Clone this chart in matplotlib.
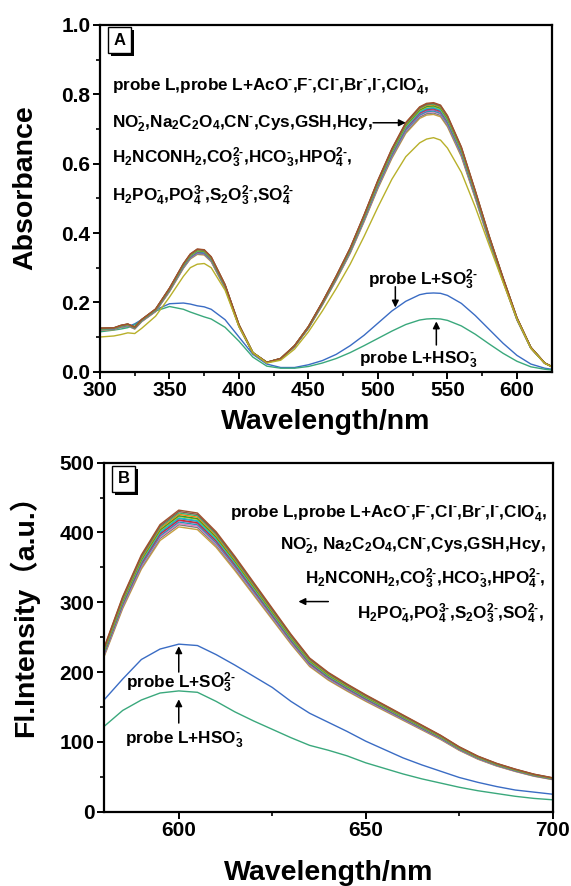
import numpy as np
import matplotlib
matplotlib.use('Agg')
import matplotlib.pyplot as plt
from matplotlib.patches import Rectangle
from matplotlib.transforms import IdentityTransform

plt.rcParams['font.family'] = ['Liberation Sans', 'Noto Sans CJK SC', 'DejaVu Sans']
plt.rcParams['font.weight'] = 'bold'
plt.rcParams['mathtext.fontset'] = 'custom'
plt.rcParams['mathtext.rm'] = 'Liberation Sans:bold'
plt.rcParams['mathtext.bf'] = 'Liberation Sans:bold'
plt.rcParams['mathtext.it'] = 'Liberation Sans:bold:italic'

# ---- UV-vis absorption (panel A) ----
uv_nm = [300, 310, 315, 320, 325, 330, 340, 350, 360, 365, 370, 375, 380, 390, 400,
         410, 420, 430, 440, 450, 460, 470, 480, 490, 500, 510, 520, 530, 535, 540,
         545, 550, 560, 570, 580, 590, 600, 610, 620, 625]
uv_probe = [0.125, 0.126, 0.133, 0.137, 0.128, 0.150, 0.180, 0.240, 0.310, 0.338,
            0.352, 0.350, 0.330, 0.250, 0.135, 0.055, 0.027, 0.038, 0.075, 0.130,
            0.200, 0.275, 0.355, 0.450, 0.550, 0.640, 0.715, 0.760, 0.770, 0.772,
            0.765, 0.735, 0.645, 0.520, 0.390, 0.270, 0.155, 0.070, 0.025, 0.015]
uv_so3 = [0.120, 0.125, 0.128, 0.130, 0.138, 0.150, 0.178, 0.196, 0.198, 0.195,
          0.190, 0.187, 0.180, 0.150, 0.100, 0.050, 0.022, 0.012, 0.012, 0.020,
          0.032, 0.050, 0.075, 0.105, 0.140, 0.175, 0.203, 0.222, 0.226, 0.227,
          0.226, 0.220, 0.197, 0.162, 0.122, 0.082, 0.047, 0.022, 0.010, 0.007]
uv_hso3 = [0.115, 0.120, 0.123, 0.127, 0.135, 0.148, 0.175, 0.188, 0.180, 0.172,
           0.165, 0.158, 0.152, 0.128, 0.088, 0.042, 0.016, 0.010, 0.010, 0.015,
           0.025, 0.038, 0.055, 0.075, 0.096, 0.117, 0.136, 0.149, 0.152, 0.153,
           0.152, 0.148, 0.132, 0.108, 0.080, 0.053, 0.030, 0.014, 0.007, 0.005]
uv_low = [0.100, 0.103, 0.107, 0.112, 0.110, 0.125, 0.160, 0.215, 0.275, 0.300,
          0.310, 0.312, 0.300, 0.235, 0.130, 0.055, 0.025, 0.033, 0.065, 0.115,
          0.175, 0.240, 0.310, 0.390, 0.475, 0.555, 0.620, 0.660, 0.671, 0.675,
          0.668, 0.645, 0.575, 0.475, 0.365, 0.258, 0.152, 0.068, 0.024, 0.014]
# peak absorbance at 540 nm of the other analyte curves
uv_peaks = [0.742, 0.746, 0.750, 0.752, 0.755, 0.758, 0.760, 0.762, 0.765, 0.767,
            0.770, 0.772, 0.774, 0.776]

# ---- fluorescence (panel B) ----
fl_nm = [580, 585, 590, 595, 600, 605, 610, 615, 620, 625, 630, 635, 640, 645, 650,
         655, 660, 665, 670, 675, 680, 685, 690, 695, 700]
fl_probe = [227, 298, 356, 398, 418, 414, 388, 354, 318, 282, 246, 213, 193, 177, 162,
            148, 134, 120, 106, 90, 77, 67, 59, 52, 47]
fl_so3 = [160, 190, 218, 233, 240, 238, 225, 210, 194, 178, 158, 141, 128, 115, 101,
          89, 77, 67, 58, 49, 42, 36, 31, 28, 25]
fl_hso3 = [122, 145, 160, 170, 173, 171, 158, 143, 130, 118, 106, 95, 88, 80, 70,
           62, 54, 47, 41, 35, 30, 26, 22, 19, 17]
fl_peaks = [408, 411, 413, 415, 417, 418, 420, 421, 423, 424, 426, 428, 430, 432]

bundle_colors = ['#c8a040', '#7f7f7f', '#e377c2', '#1f9fb4', '#9467bd', '#d62728',
                 '#4682b4', '#17becf', '#bcbd22', '#2ca02c', '#ff7f0e', '#3cb371',
                 '#8c564b', '#a0522d']
c_so3 = '#3a6cc4'
c_hso3 = '#3aa87c'
c_low = '#b8b02a'

lbl_size = 20.5
tick_size = 15
note_size = 12.3

fig = plt.figure(figsize=(5.71, 8.86), dpi=100)
ax1 = fig.add_axes([0.1751, 0.5805, 0.7911, 0.3913])
ax2 = fig.add_axes([0.1821, 0.0839, 0.7858, 0.3939])


def style_axes(ax):
    for sp in ax.spines.values():
        sp.set_linewidth(1.6)
    ax.tick_params(which='major', direction='out', length=5, width=1.4,
                   labelsize=tick_size, pad=2)
    ax.tick_params(which='minor', direction='out', length=3, width=1.2)
    for t in ax.get_xticklabels() + ax.get_yticklabels():
        t.set_fontweight('bold')


def panel_tag(ax, x, y, s):
    box = dict(boxstyle='square,pad=0.35', fc='white', ec='black', lw=1)
    t = ax.text(x, y, s, transform=ax.transAxes, fontsize=12, fontweight='bold',
                bbox=box, va='top', ha='left', zorder=6)
    fig.canvas.draw()
    bb = t.get_bbox_patch().get_window_extent()
    # drop shadow behind the boxed letter
    ax.add_patch(Rectangle((bb.x0 + 3, bb.y0 - 3), bb.width, bb.height,
                           transform=IdentityTransform(), fc='black', ec='none',
                           zorder=5, clip_on=False))


def arrow(ax, tail, head):
    ax.annotate('', xy=head, xytext=tail,
                arrowprops=dict(arrowstyle='-|>', color='black', lw=1.1,
                                mutation_scale=10, shrinkA=0, shrinkB=0))


# short hyphen for the ion charges
m = r'\text{-}'
notes = [r'probe L,probe L+AcO$^{%s}$,F$^{%s}$,Cl$^{%s}$,Br$^{%s}$,I$^{%s}$,ClO$_4^{%s}$,' % ((m,) * 6),
         r'NO$_2^{%s}$,Na$_2$C$_2$O$_4$,CN$^{%s}$,Cys,GSH,Hcy,' % ((m,) * 2),
         r'H$_2$NCONH$_2$,CO$_3^{2%s}$,HCO$_3^{%s}$,HPO$_4^{2%s}$,' % ((m,) * 3),
         r'H$_2$PO$_4^{%s}$,PO$_4^{3%s}$,S$_2$O$_3^{2%s}$,SO$_4^{2%s}$' % ((m,) * 4)]
notes_b = [notes[0],
           r'NO$_2^{%s}$, Na$_2$C$_2$O$_4$,CN$^{%s}$,Cys,GSH,Hcy,' % ((m,) * 2),
           notes[2],
           notes[3] + ',']
so3_text = r'probe L+SO$_3^{2%s}$' % m
hso3_text = r'probe L+HSO$_3^{%s}$' % m

# panel A
x = np.array(uv_nm)
base = np.array(uv_probe)
ax1.plot(x, uv_so3, color=c_so3, lw=1.0)
ax1.plot(x, uv_hso3, color=c_hso3, lw=1.0)
for pk, col in zip(uv_peaks, bundle_colors):
    ax1.plot(x, base * pk / base.max(), color=col, lw=1.0)
ax1.plot(x, uv_low, color=c_low, lw=1.0)

ax1.set_xlim(300, 625)
ax1.set_ylim(0, 1.0)
ax1.set_xticks([300, 350, 400, 450, 500, 550, 600])
ax1.set_xticks(np.arange(325, 625, 50), minor=True)
ax1.set_yticks([0.0, 0.2, 0.4, 0.6, 0.8, 1.0])
ax1.set_yticks([0.1, 0.3, 0.5, 0.7, 0.9], minor=True)
ax1.yaxis.set_major_formatter(plt.FormatStrFormatter('%.1f'))
style_axes(ax1)
ax1.set_xlabel('Wavelength/nm', fontsize=lbl_size, fontweight='bold', labelpad=6)
ax1.set_ylabel('Absorbance', fontsize=lbl_size, fontweight='bold')
ax1.yaxis.set_label_coords(-0.137, 0.53)

for s, yb in zip(notes, [0.810, 0.705, 0.601, 0.492]):
    ax1.text(308.4, yb, s, fontsize=note_size, fontweight='bold', ha='left', va='baseline')
arrow(ax1, (496.5, 0.718), (520, 0.718))
ax1.text(493, 0.250, so3_text, fontsize=note_size, fontweight='bold', va='baseline')
arrow(ax1, (512.5, 0.245), (512.5, 0.185))
ax1.text(486, 0.024, hso3_text, fontsize=note_size, fontweight='bold', va='baseline')
arrow(ax1, (542, 0.077), (542, 0.145))

# panel B
x = np.array(fl_nm)
base = np.array(fl_probe)
ax2.plot(x, fl_so3, color=c_so3, lw=1.0)
ax2.plot(x, fl_hso3, color=c_hso3, lw=1.0)
for pk, col in zip(fl_peaks, bundle_colors):
    ax2.plot(x, base * pk / base.max(), color=col, lw=1.0)

ax2.set_xlim(580, 700)
ax2.set_ylim(0, 500)
ax2.set_xticks([600, 650, 700])
ax2.set_xticks([625, 675], minor=True)
ax2.set_yticks([0, 100, 200, 300, 400, 500])
ax2.set_yticks([50, 150, 250, 350, 450], minor=True)
style_axes(ax2)
ax2.set_xlabel('Wavelength/nm', fontsize=lbl_size, fontweight='bold', labelpad=14)
ax2.set_ylabel('Fl.Intensity（a.u.）', fontsize=lbl_size, fontweight='bold')
ax2.yaxis.set_label_coords(-0.145, 0.58)

for s, xr, yb in zip(notes_b, [698.6, 698.3, 698.1, 697.7], [422, 375, 326, 276]):
    ax2.text(xr, yb, s, fontsize=note_size, fontweight='bold', ha='right', va='baseline')
arrow(ax2, (640, 301), (632, 301))
ax2.text(586, 178, so3_text, fontsize=note_size, fontweight='bold', va='baseline')
arrow(ax2, (600, 200), (600, 237))
ax2.text(585.6, 97, hso3_text, fontsize=note_size, fontweight='bold', va='baseline')
arrow(ax2, (600, 127), (600, 161))

panel_tag(ax1, 0.03, 0.978, 'A')
panel_tag(ax2, 0.03, 0.975, 'B')

fig.savefig('out.png', dpi=100)
